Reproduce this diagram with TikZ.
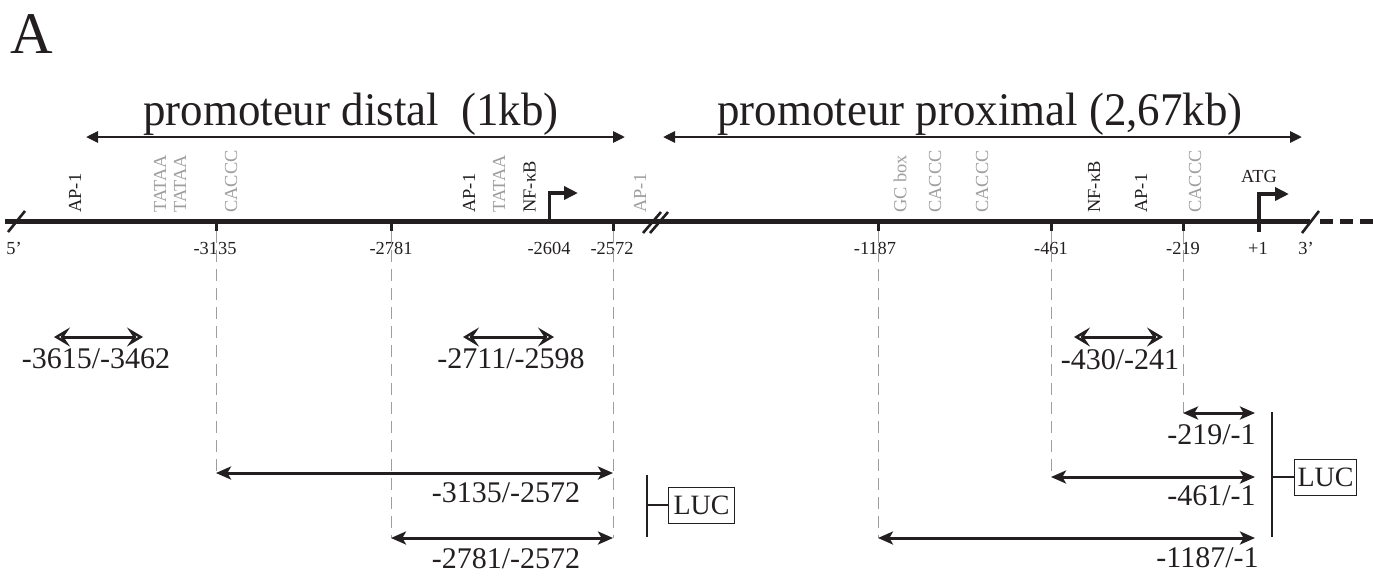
\documentclass[tikz,border=0pt]{standalone}
\usepackage{fontspec}
\setmainfont{Liberation Serif}
\usetikzlibrary{arrows.meta}
\definecolor{ink}{RGB}{35,31,32}
\definecolor{sgray}{RGB}{158,158,160}
\begin{document}
\begin{tikzpicture}[x=0.5pt,y=-0.5pt,
  every node/.style={inner sep=0pt, text=ink},
  poslabel/.style={font=\fontsize{9.2}{10}\selectfont, anchor=base},
  site/.style={font=\fontsize{9.2}{10}\selectfont, rotate=90, anchor=west, align=center},
  sitegray/.style={site, text=sgray},
  rangelabel/.style={font=\fontsize{15}{17}\selectfont, anchor=base},
  rangelabelR/.style={font=\fontsize{15}{17}\selectfont, anchor=base east},
  titlelabel/.style={font=\fontsize{23.4}{26}\selectfont, anchor=base, xscale=0.96},
  guide/.style={draw=sgray, line width=0.5pt, dash pattern=on 6pt off 3.5pt},
  dna/.style={draw=ink, line width=2.5pt},
  tickmark/.style={draw=ink, line width=1.5pt},
  slashmark/.style={draw=ink, line width=1.3pt},
  promo/.style={draw=ink, line width=1.8pt, -{Triangle[length=7pt,width=6.5pt]}},
  fullrange/.style={draw=ink, line width=1.5pt, >={Stealth[length=7.5pt,width=6.5pt,inset=1.8pt]}, <->},
  openrange/.style={draw=ink, line width=1.5pt, >={Stealth[open,length=8pt,width=9.5pt,inset=3.2pt,line width=1.2pt]}, <->},
  toprange/.style={draw=ink, line width=1.4pt, >={Triangle[length=6pt,width=5.5pt]}, <->},
  lucbar/.style={draw=ink, line width=1pt},
  lucbox/.style={draw=ink, line width=0.5pt, font=\fontsize{14}{16}\selectfont, minimum height=18pt}
]
\useasboundingbox (0,0) rectangle (1373,575);

% panel letter
\node[anchor=base, font=\fontsize{29.5}{32}\selectfont] (panelA) at (32,53) {A};

% titles and their arrows
\node[titlelabel] (tdist) at (351,125) {promoteur distal\ \ (1kb)};
\node[titlelabel] (tprox) at (980,125) {promoteur proximal (2,67kb)};
\coordinate (da) at (86,137); \coordinate (db) at (625,137);
\coordinate (pa) at (663,137); \coordinate (pb) at (1302,137);
\draw[toprange] (da) -- (db);
\draw[toprange] (pa) -- (pb);

% DNA line
\coordinate (L) at (5,221); \coordinate (R) at (1310,221);
\draw[dna] (L) -- (R);
\coordinate (D1) at (1320,221); \coordinate (D2) at (1373,221);
\draw[draw=ink, line width=2.5pt, dash pattern=on 6.5pt off 3.5pt] (D1) -- (D2);

% break marks
\coordinate (s1a) at (8,232); \coordinate (s1b) at (25,211);
\draw[slashmark] (s1a) -- (s1b);
\coordinate (s2a) at (643,233); \coordinate (s2b) at (661,212);
\coordinate (s3a) at (650,233); \coordinate (s3b) at (668,212);
\draw[slashmark] (s2a) -- (s2b);
\draw[slashmark] (s3a) -- (s3b);
\coordinate (s4a) at (1302,233); \coordinate (s4b) at (1319,211);
\draw[slashmark] (s4a) -- (s4b);

% ticks
\foreach \n/\x in {p3135/216, p2781/391, p2572/613, p1187/878, p461/1051, p219/1183}{
  \coordinate (\n) at (\x,221);
  \coordinate (\n t) at (\x,231);
  \draw[tickmark] (\n) -- (\n t);
}

% promoter arrows
\coordinate (p2604) at (549.5,221); \coordinate (p2604u) at (549.5,193); \coordinate (p2604e) at (578,193);
\draw[promo] (p2604) -- (p2604u) -- (p2604e);
\coordinate (p1b) at (1259,232); \coordinate (p1u) at (1259,194); \coordinate (p1e) at (1289,194);
\draw[promo] (p1b) -- (p1u) -- (p1e);
\node[font=\fontsize{9.2}{10}\selectfont] (atg) at (1259,176) {ATG};

% position labels
\node[poslabel] (l5) at (14,254) {5’};
\node[poslabel] (l3135) at (215,254) {-3135};
\node[poslabel] (l2781) at (391,254) {-2781};
\node[poslabel] (l2604) at (549,254) {-2604};
\node[poslabel] (l2572) at (612,254) {-2572};
\node[poslabel] (l1187) at (875,254) {-1187};
\node[poslabel] (l461) at (1051,254) {-461};
\node[poslabel] (l219) at (1183,254) {-219};
\node[poslabel] (l1) at (1258,254) {+1};
\node[poslabel] (l3) at (1306,254) {3’};

% binding sites
\node[site] (b1) at (75,213) {AP-1};
\node[sitegray] (b2) at (170,213) {TATAA\\TATAA};
\node[sitegray] (b3) at (231,213) {CACCC};
\node[site] (b4) at (469,213) {AP-1};
\node[sitegray] (b5) at (499,213) {TATAA};
\node[site] (b6) at (529.5,213) {NF-κB};
\node[sitegray] (b7) at (640,213) {AP-1};
\node[sitegray] (b8) at (900,213) {GC box};
\node[sitegray] (b9) at (935,213) {CACCC};
\node[sitegray] (b10) at (982,213) {CACCC};
\node[site] (b11) at (1094,213) {NF-κB};
\node[site] (b12) at (1141,213) {AP-1};
\node[sitegray] (b13) at (1195,213) {CACCC};

% guide lines
\coordinate (g1) at (216,473); \coordinate (g2) at (391,538); \coordinate (g3) at (613,538);
\coordinate (g4) at (878,538); \coordinate (g5) at (1051,477); \coordinate (g6) at (1183,413);
\draw[guide] (p3135t) -- (g1);
\draw[guide] (p2781t) -- (g2);
\draw[guide] (p2572t) -- (g3);
\draw[guide] (p1187t) -- (g4);
\draw[guide] (p461t) -- (g5);
\draw[guide] (p219t) -- (g6);

% open (binding) ranges
\coordinate (o1a) at (54,337); \coordinate (o1b) at (143,337);
\coordinate (o2a) at (463,337); \coordinate (o2b) at (554,337);
\coordinate (o3a) at (1074,337); \coordinate (o3b) at (1163,337);
\draw[openrange] (o1a) -- (o1b);
\draw[openrange] (o2a) -- (o2b);
\draw[openrange] (o3a) -- (o3b);
\node[rangelabel] (r1) at (96,368) {-3615/-3462};
\node[rangelabel] (r2) at (511,368) {-2711/-2598};
\node[rangelabel] (r3) at (1120,369) {-430/-241};

% construct ranges
\coordinate (e1) at (613,473);
\coordinate (e2) at (613,538);
\coordinate (e3) at (1255,413);
\coordinate (e4) at (1255,477);
\coordinate (e5) at (1255,538);
\draw[fullrange] (g1) -- (e1);
\draw[fullrange] (g2) -- (e2);
\draw[fullrange] (g6) -- (e3);
\draw[fullrange] (g5) -- (e4);
\draw[fullrange] (g4) -- (e5);
\node[rangelabel] (c1) at (506,502) {-3135/-2572};
\node[rangelabel] (c2) at (506,568) {-2781/-2572};
\node[rangelabelR] (c3) at (1256,444) {-219/-1};
\node[rangelabelR] (c4) at (1256,505) {-461/-1};
\node[rangelabelR] (c5) at (1259,567) {-1187/-1};

% LUC reporters
\coordinate (lb1a) at (647,475); \coordinate (lb1b) at (647,537); \coordinate (lb1m) at (647,505);
\draw[lucbar] (lb1a) -- (lb1b);
\node[lucbox, minimum width=33pt, anchor=west] (luc1) at (668,505) {LUC};
\draw[lucbar] (lb1m) -- (luc1.west);
\coordinate (lb2a) at (1272,412); \coordinate (lb2b) at (1272,537); \coordinate (lb2m) at (1272,477);
\draw[lucbar] (lb2a) -- (lb2b);
\node[lucbox, minimum width=31pt, anchor=west] (luc2) at (1294,477) {LUC};
\draw[lucbar] (lb2m) -- (luc2.west);
\end{tikzpicture}
\end{document}
